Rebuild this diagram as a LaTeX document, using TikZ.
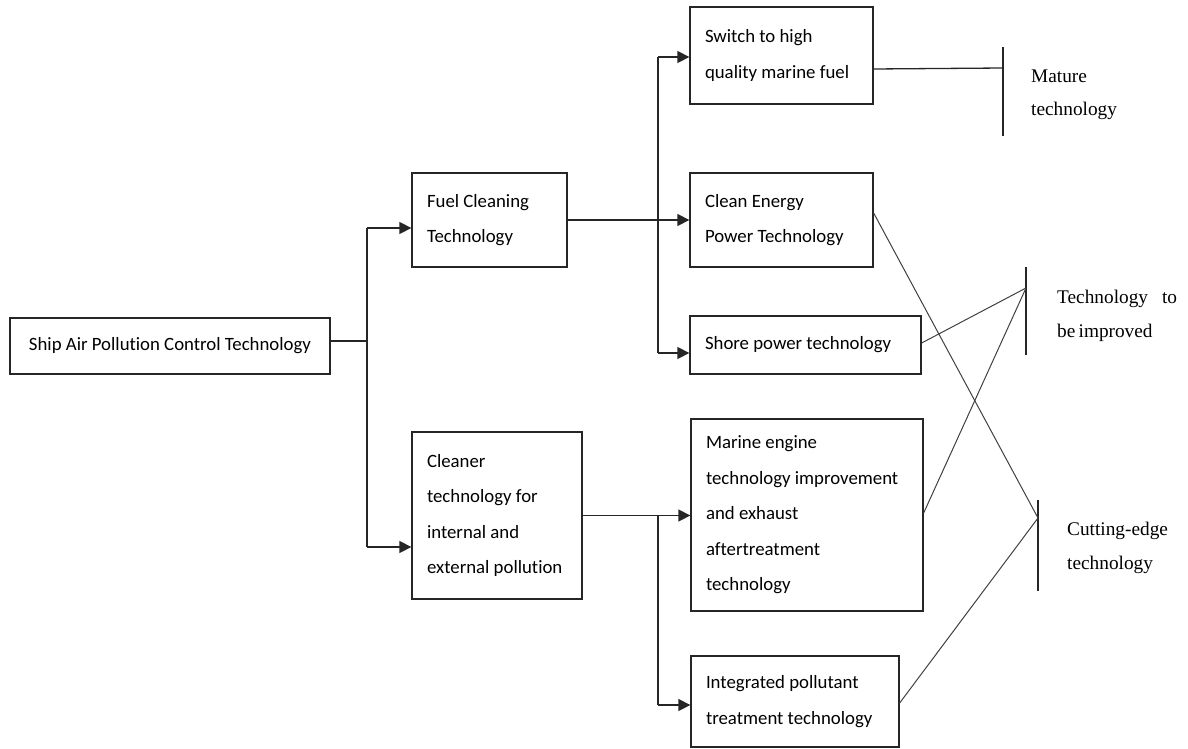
\documentclass[tikz,border=0pt]{standalone}
\usepackage{fontspec}
\newfontfamily\boxfont[Ligatures=NoCommon]{Carlito}
\newfontfamily\labfont{Liberation Serif}
\usetikzlibrary{arrows.meta}
\begin{document}
\begin{tikzpicture}[x=1pt,y=-1pt,
  box/.style={draw=black!85, line width=1.3pt, inner xsep=15pt, inner ysep=0pt, align=flush left,
    font=\boxfont\fontsize{18.8}{35.5}\selectfont, anchor=center},
  conn/.style={line width=1.3pt, draw=black!85},
  arr/.style={conn, -{Triangle[length=12pt,width=12pt]}},
  diag/.style={line width=1pt, draw=black!75},
  brk/.style={line width=1.3pt, draw=black!85},
  lab/.style={font=\labfont\fontsize{19.3}{33.5}\selectfont, align=left, anchor=west, inner sep=0pt}]
\useasboundingbox (0,0) rectangle (1188,749);

\node[box, minimum width=320pt, minimum height=56pt] (ship) at (170,346) {Ship Air Pollution Control Technology};
\node[box, text width=125pt, minimum height=94pt] (fuel) at (489.5,220) {Fuel Cleaning\\Technology};
\node[box, text width=140pt, minimum height=167pt] (cleaner) at (497,515.5) {Cleaner\\technology for\\internal and\\external pollution};
\node[box, text width=153pt, minimum height=97pt] (switch) at (781.5,55.5) {Switch to high\\quality marine fuel};
\node[box, text width=153pt, minimum height=94pt] (clean) at (781.5,220) {Clean Energy\\Power Technology};
\node[box, text width=201pt, minimum height=58pt] (shore) at (805.5,345) {Shore power technology};
\node[box, text width=202pt, minimum height=192pt] (marine) at (807,515) {Marine engine\\technology improvement\\and exhaust\\aftertreatment\\technology};
\node[box, text width=178pt, minimum height=91pt] (integ) at (795,701.5) {Integrated pollutant\\treatment technology};

% tree connectors
\coordinate (t1) at (367,228);
\coordinate (b1) at (367,547);
\draw[conn] ([yshift=5pt]ship.east) -- ++(37pt,0);
\draw[conn] (t1) -- (b1);
\draw[arr] (t1) -- (t1 -| fuel.west);
\draw[arr] (b1) -- (b1 -| cleaner.west);

\draw[arr] (fuel.east) -- (clean.west);
\coordinate (t2) at (658,57);
\coordinate (b2) at (658,353);
\draw[conn] (t2) -- (b2);
\draw[arr] (t2) -- (t2 -| switch.west);
\draw[arr] (b2) -- (b2 -| shore.west);

\draw[arr] (cleaner.east) -- (cleaner.east -| marine.west);
\coordinate (t3) at (658,515.5);
\coordinate (b3) at (658,705);
\draw[conn] (t3) -- (b3);
\draw[arr] (b3) -- (b3 -| integ.west);

% brackets
\coordinate (m1) at (1003,47);
\coordinate (m2) at (1003,136);
\coordinate (mp) at (1003,68);
\coordinate (i1) at (1026,267);
\coordinate (i2) at (1026,355);
\coordinate (ip) at (1026,288);
\coordinate (c1) at (1038,500);
\coordinate (c2) at (1038,591);
\coordinate (cp) at (1038,518);
\draw[brk] (m1) -- (m2);
\draw[brk] (i1) -- (i2);
\draw[brk] (c1) -- (c2);

\draw[conn] ([yshift=-13.5pt]switch.east) -- (mp);
\draw[diag] ([yshift=7pt]clean.east) -- (cp);
\draw[diag] ([yshift=2pt]shore.east) -- (ip);
\draw[diag] ([yshift=2pt]marine.east) -- (ip);
\draw[diag] ([yshift=-1.5pt]integ.east) -- (cp);

% labels
\node[lab] (mature) at (1031,95) {Mature\\technology};
\node[lab] (improve) at (1057,316) {Technology\hspace{14pt}to\\be\,improved};
\node[lab] (cutting) at (1067,548) {Cutting-edge\\technology};
\end{tikzpicture}
\end{document}
